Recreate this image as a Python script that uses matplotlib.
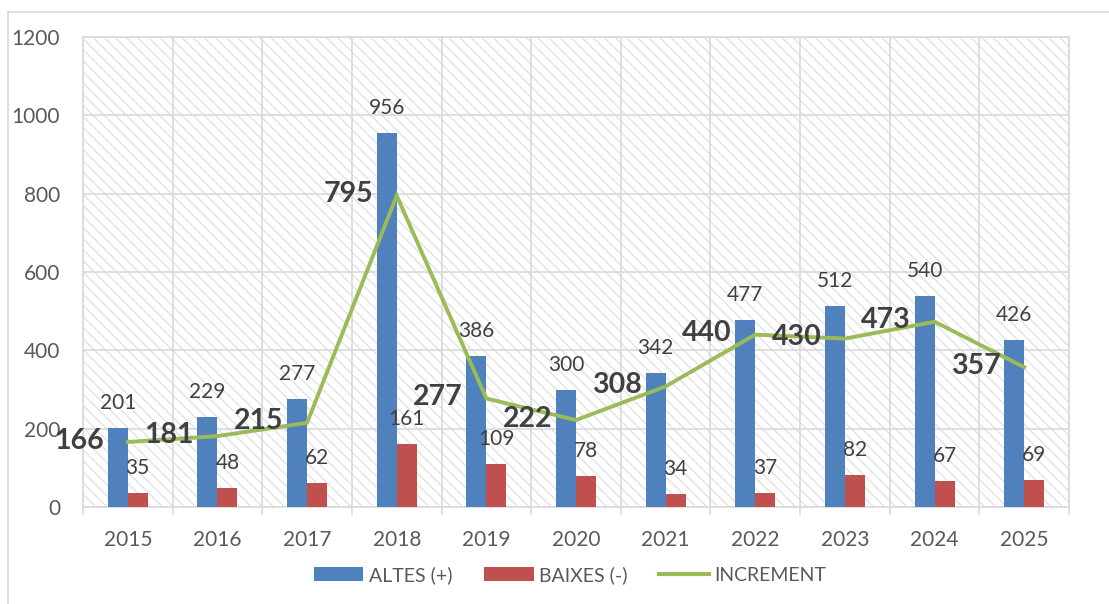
import matplotlib.pyplot as plt
from matplotlib.patches import Rectangle
from matplotlib.lines import Line2D
import numpy as np

plt.rcParams['font.family'] = ['Lato', 'DejaVu Sans']
plt.rcParams['hatch.linewidth'] = 0.9

years = ['2015', '2016', '2017', '2018', '2019', '2020', '2021', '2022', '2023', '2024', '2025']
altes = [201, 229, 277, 956, 386, 300, 342, 477, 512, 540, 426]
baixes = [35, 48, 62, 161, 109, 78, 34, 37, 82, 67, 69]
increment = [166, 181, 215, 795, 277, 222, 308, 440, 430, 473, 357]

c_blue = '#4F81BD'
c_red = '#C0504D'
c_green = '#9BBB59'
c_grid = '#D9D9D9'
c_text = '#404040'
c_tick = '#595959'

fig = plt.figure(figsize=(11.09, 6.04), dpi=100)
ax = fig.add_axes([0.0748, 0.1606, 0.8892, 0.7781])

x = np.arange(len(years))
w = 0.223

# fons ratllat
bg = Rectangle((0, 0), 1, 1, transform=ax.transAxes, facecolor='white',
               edgecolor='#E0E0E0', hatch='\\\\\\', linewidth=0, zorder=0)
ax.add_patch(bg)

b1 = ax.bar(x - w, altes, width=w, align='edge', color=c_blue, zorder=3, label='ALTES (+)')
b2 = ax.bar(x, baixes, width=w, align='edge', color=c_red, zorder=3, label='BAIXES (-)')
ln, = ax.plot(x, increment, color=c_green, lw=2.8, zorder=4, label='INCREMENT',
              solid_joinstyle='miter')

for xi, v in zip(x, altes):
    ax.annotate(str(v), (xi - w / 2, v), xytext=(0, 18), textcoords='offset points',
                ha='center', va='center', fontsize=15, color=c_text, zorder=5)
for xi, v in zip(x, baixes):
    ax.annotate(str(v), (xi + w / 2, v), xytext=(0, 18), textcoords='offset points',
                ha='center', va='center', fontsize=15, color=c_text, zorder=5)
for xi, v in zip(x, increment):
    ax.annotate(str(v), (xi, v), xytext=(-17, 1), textcoords='offset points',
                ha='right', va='center', fontsize=20.5, fontweight='bold', color=c_text, zorder=5)

ax.set_xlim(-0.5, len(years) - 0.5)
ax.set_ylim(0, 1200)
ax.set_yticks(range(0, 1201, 200))
ax.set_xticks(x)
ax.set_xticklabels(years)
ax.set_xticks(np.arange(-0.5, len(years), 1), minor=True)

ax.grid(True, which='major', axis='y', color=c_grid, lw=1.2, zorder=1)
ax.grid(True, which='minor', axis='x', color=c_grid, lw=1.2, zorder=1)
ax.set_axisbelow(True)

ax.tick_params(axis='y', length=0, pad=16.5, labelsize=15, labelcolor=c_tick)
ax.tick_params(axis='x', which='major', length=0, pad=16.5, labelsize=15, labelcolor=c_tick)
ax.tick_params(axis='x', which='minor', length=6, width=1.2, color=c_grid)

for s in ['top', 'right', 'left', 'bottom']:
    ax.spines[s].set_color(c_grid)
    ax.spines[s].set_linewidth(1.2)

fig.legend(handles=[b1, b2, Line2D([0], [0], color=c_green, lw=3)],
           labels=['ALTES (+)', 'BAIXES (-)', 'INCREMENT'],
           loc='center', bbox_to_anchor=(0.514, 0.048), ncol=3, frameon=False,
           fontsize=14, labelcolor=c_tick, handlelength=2.56, handleheight=0.75,
           handletextpad=0.3, columnspacing=1.6)

# marc exterior
fig.add_artist(Line2D([8 / 1109, 1], [1 - 12 / 604, 1 - 12 / 604], color=c_grid, lw=1.2))
fig.add_artist(Line2D([8 / 1109, 8 / 1109], [0, 1 - 12 / 604], color=c_grid, lw=1.2))

plt.savefig('out.png', dpi=100)
plt.close()
